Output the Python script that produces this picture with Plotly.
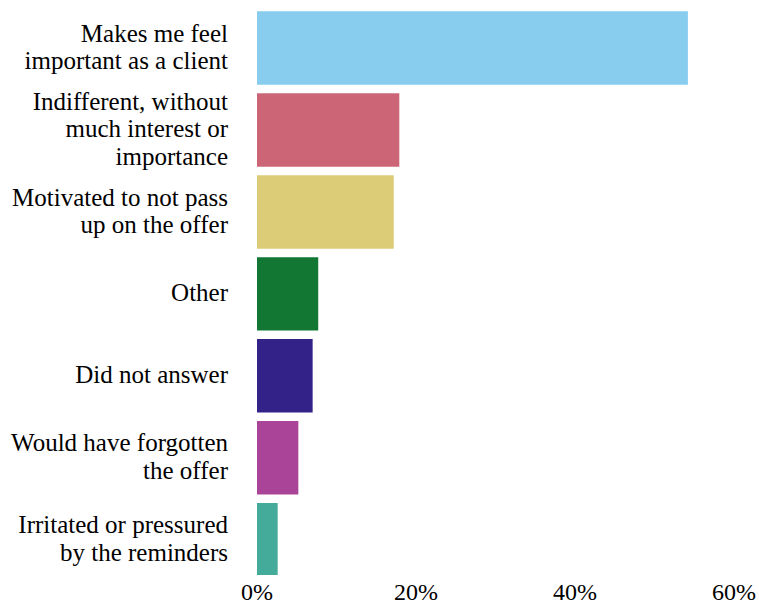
import plotly.graph_objects as go

categories = [
    "Makes me feel<br>important as a client",
    "Indifferent, without<br>much interest or<br>importance",
    "Motivated to not pass<br>up on the offer",
    "Other",
    "Did not answer",
    "Would have forgotten<br>the offer",
    "Irritated or pressured<br>by the reminders",
]
values = [0.542, 0.179, 0.172, 0.077, 0.070, 0.052, 0.026]
colors = ["#88CCEE", "#CC6677", "#DDCC77", "#117733", "#332288", "#AA4499", "#44AA99"]
tick_vals = [0, 0.2, 0.4, 0.6]
tick_text = ["0%", "20%", "40%", "60%"]

FONT = "Liberation Serif"


def big(label):
    return "<br>".join('<span style="font-size:25px">%s</span>' % part for part in label.split("<br>"))


fig = go.Figure(go.Bar(
    x=values, y=categories, orientation="h",
    marker=dict(color=colors, line=dict(width=0)),
    hoverinfo="x+y",
))
fig.update_layout(
    width=759, height=606,
    margin=dict(l=257, r=25, t=7, b=31),
    paper_bgcolor="white", plot_bgcolor="white",
    font=dict(family=FONT, size=24, color="black"),
    bargap=0.104,
    showlegend=False,
)
fig.update_xaxes(range=[0, 0.6], tickvals=tick_vals, ticktext=tick_text,
                 showgrid=False, zeroline=False, showline=False, ticks="",
                 ticklabelstandoff=0, tickfont=dict(family=FONT, size=24),
                 automargin=False)
fig.update_yaxes(range=[6.43, -0.5], showgrid=False, zeroline=False, showline=False,
                 ticks="", ticklabelstandoff=28, tickfont=dict(family=FONT, size=21),
                 tickvals=categories, ticktext=[big(c) for c in categories],
                 automargin=False)
fig.write_html("out.html", config={"displayModeBar": False},
               post_script="document.body.style.margin='0';document.body.style.padding='0';")
